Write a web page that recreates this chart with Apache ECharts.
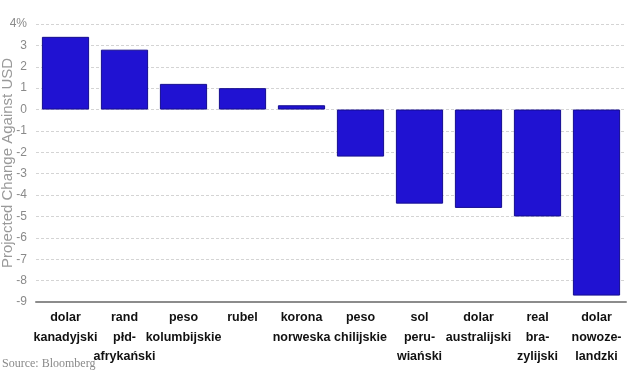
<!DOCTYPE html>
<html>
<head>
<meta charset="utf-8">
<script src="https://cdn.jsdelivr.net/npm/echarts@6/dist/echarts.min.js"></script>
<style>html,body{margin:0;padding:0;background:#fff}#c{width:630px;height:372px}</style>
</head>
<body>
<div id="c"></div>
<script>
const categories = [
  "dolar\nkanadyjski",
  "rand\npłd-\nafrykański",
  "peso\nkolumbijskie",
  "rubel",
  "korona\nnorweska",
  "peso\nchilijskie",
  "sol\nperu-\nwiański",
  "dolar\naustralijski",
  "real\nbra-\nzylijski",
  "dolar\nnowoze-\nlandzki"
];
const values = [3.4, 2.8, 1.2, 1.0, 0.2, -2.2, -4.4, -4.6, -5.0, -8.7];
const yAxisTitle = "Projected Change Against USD";
const sourceText = "Source: Bloomberg";

const chart = echarts.init(document.getElementById('c'), null, {renderer: 'canvas'});
chart.setOption({
  animation: false,
  backgroundColor: '#ffffff',
  grid: {left: 36, right: 4, top: 24, bottom: 70, containLabel: false, outerBoundsMode: 'none'},
  xAxis: {
    type: 'category',
    data: categories,
    position: 'bottom',
    axisLine: {onZero: false, lineStyle: {color: '#8c8c8c', width: 2}},
    axisTick: {alignWithLabel: true, length: 4, lineStyle: {color: '#8c8c8c'}},
    axisLabel: {
      interval: 0,
      margin: 6,
      color: '#111',
      fontFamily: 'Liberation Sans, Arial, sans-serif',
      fontWeight: 'bold',
      fontSize: 12.5,
      lineHeight: 19.5
    }
  },
  yAxis: {
    type: 'value',
    min: -9, max: 4, interval: 1,
    name: yAxisTitle,
    nameLocation: 'middle',
    nameGap: 21,
    nameMoveOverlap: false,
    nameTextStyle: {color: '#9a9a9a', fontSize: 15, fontFamily: 'Liberation Sans, Arial, sans-serif'},
    axisLine: {show: false},
    axisTick: {show: false},
    axisLabel: {
      color: '#8a8a8a',
      fontSize: 12,
      margin: 9,
      fontFamily: 'Liberation Sans, Arial, sans-serif',
      formatter: v => v === 4 ? '4%' : String(v)
    },
    splitLine: {lineStyle: {color: '#d4d4d4', type: [3, 2]}}
  },
  series: [{
    type: 'bar',
    data: values,
    barCategoryGap: '20%',
    itemStyle: {color: '#2012d2', borderColor: '#140c90', borderWidth: 1}
  }],
  graphic: [{
    type: 'text',
    left: 2,
    bottom: 2,
    style: {text: sourceText, fill: '#8a8a8a', font: '12px "Liberation Serif", "DejaVu Serif", serif'}
  }]
});
</script>
</body>
</html>
